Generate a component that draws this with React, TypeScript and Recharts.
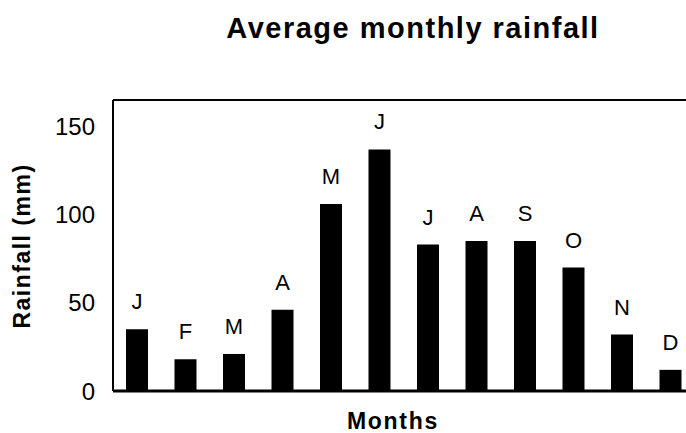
import { Bar, BarChart, LabelList, ReferenceLine, XAxis, YAxis } from 'recharts'

const months = ['Jan', 'Feb', 'Mar', 'Apr', 'May', 'Jun', 'Jul', 'Aug', 'Sep', 'Oct', 'Nov', 'Dec']
const letters = ['J', 'F', 'M', 'A', 'M', 'J', 'J', 'A', 'S', 'O', 'N', 'D']
const rainfall = [35, 18, 21, 46, 106, 137, 83, 85, 85, 70, 32, 12]
const yTicks = [0, 50, 100, 150]

const FONT = '"Liberation Sans", Arial, sans-serif'

export default function App() {
  const data = months.map((m, i) => ({ month: m, letter: letters[i], rainfall: rainfall[i] }))

  return (
    <div
      style={{
        position: 'absolute',
        left: 0,
        top: 0,
        width: 686,
        height: 433,
        overflow: 'hidden',
        background: '#ffffff',
        fontFamily: FONT,
        color: '#000',
      }}
    >
      <div
        style={{
          position: 'absolute',
          left: 413,
          top: 12,
          transform: 'translateX(-50%)',
          whiteSpace: 'nowrap',
          fontSize: 29,
          fontWeight: 700,
          letterSpacing: 1.5,
        }}
      >
        Average monthly rainfall
      </div>
      <div
        style={{
          position: 'absolute',
          left: 22,
          top: 246,
          transform: 'translate(-50%, -50%) rotate(-90deg)',
          whiteSpace: 'nowrap',
          fontSize: 23,
          fontWeight: 700,
          letterSpacing: 1.5,
        }}
      >
        Rainfall (mm)
      </div>
      <div
        style={{
          position: 'absolute',
          left: 393,
          top: 411,
          transform: 'translateX(-50%)',
          whiteSpace: 'nowrap',
          fontSize: 23,
          lineHeight: '21px',
          fontWeight: 700,
          letterSpacing: 1.7,
        }}
      >
        Months
      </div>
      <div style={{ position: 'absolute', left: 0, top: 0 }}>
        <BarChart width={700} height={433} data={data} margin={{ top: 100, right: 5, bottom: 12, left: 0 }}>
          <XAxis
            dataKey="month"
            tick={false}
            tickLine={false}
            height={30}
            axisLine={{ stroke: '#000', strokeWidth: 3 }}
          />
          <YAxis
            width={113}
            domain={[0, 165]}
            ticks={yTicks}
            tickLine={false}
            tickMargin={12}
            axisLine={{ stroke: '#000', strokeWidth: 2 }}
            tick={{ fill: '#000', fontSize: 24, fontFamily: FONT }}
          />
          <ReferenceLine y={165} stroke="#000" strokeWidth={2} />
          <Bar dataKey="rainfall" fill="#000" barSize={22} isAnimationActive={false}>
            <LabelList dataKey="letter" position="top" offset={20} fill="#000" fontSize={22} fontFamily={FONT} />
          </Bar>
        </BarChart>
      </div>
    </div>
  )
}
